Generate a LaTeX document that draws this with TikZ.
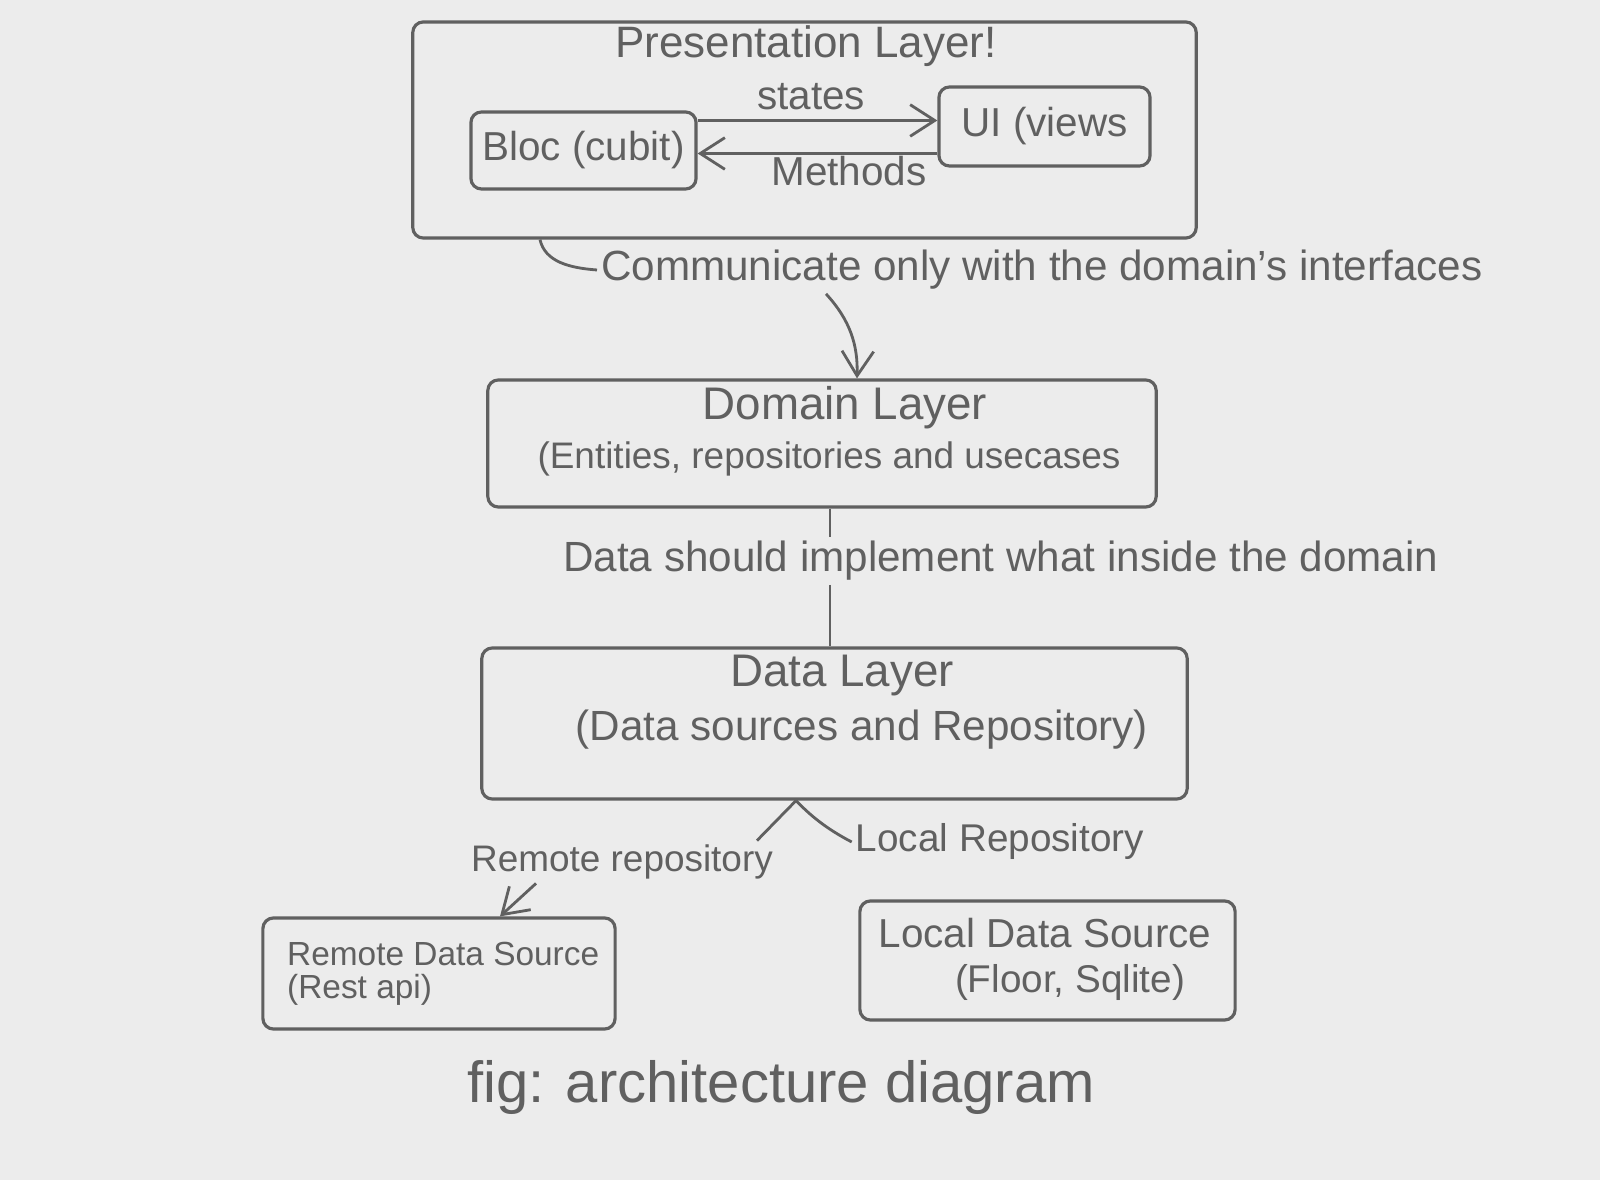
\documentclass[tikz,border=0pt]{standalone}
\usepackage{fontspec}
\setmainfont{Liberation Sans}
\usetikzlibrary{arrows.meta,calc}
\definecolor{paper}{RGB}{236,236,236}
\definecolor{pencil}{RGB}{96,96,96}
\tikzset{
  box/.style={draw=pencil, line width=0.9pt, rounded corners=3pt, inner sep=0pt},
  txt/.style={text=pencil, inner sep=1pt, font=\fontsize{#1}{#1}\selectfont},
  txt/.default=11,
  wire/.style={draw=pencil, line width=0.8pt},
  arr/.style={wire, -{Straight Barb[length=7pt,width=9pt]}},
}
\begin{document}
\begin{tikzpicture}[x=0.01cm,y=-0.01cm]
\useasboundingbox (0,0) rectangle (1600,1180);
\fill[paper] (0,0) rectangle (1600,1180);

% Presentation layer
\node[box, minimum width=7.83cm, minimum height=2.16cm] (pres) at (804.5,130) {};
\node[txt=12.5] (prestitle) at (806,46) {Presentation Layer!};
\node[box, minimum width=2.25cm, minimum height=0.77cm] (bloc) at (583.5,150.5) {};
\node[txt=11.5] (bloctxt) at (bloc.center) {Bloc (cubit)};
\node[box, minimum width=2.11cm, minimum height=0.79cm] (ui) at (1044.5,126.5) {};
\node[txt=11.5] (uitxt) at (ui.center) {UI (views};
\coordinate (s1) at ($(bloc.east)+(0,-30)$);
\coordinate (m1) at ($(bloc.east)+(0,3)$);
\draw[arr] (s1) -- (s1 -| ui.west);
\draw[arr] (m1 -| ui.west) -- (m1);
\node[txt=11.5] (states) at (811,97) {states};
\node[txt=11.5] (methods) at (849,171) {Methods};

% Communicate
\node[txt=12, anchor=west] (comm) at (597,270) {Communicate only with the domain's interfaces};
\coordinate (p1) at (pres.south -| 540,0);
\draw[wire] (p1) .. controls (545,262) and (570,268) .. (comm.west);
\node[box, minimum width=6.68cm, minimum height=1.27cm] (domain) at (822,443.5) {};
\node[txt=13] (domtitle) at (845,408) {Domain Layer};
\node[txt=10.5] (domsub) at (829,459) {(Entities, repositories and usecases};
\coordinate (c1) at (comm.south -| 826,0);
\draw[arr] (c1) .. controls (850,320) and (858,345) .. (domain.north -| 857,0);

% Data
\node[box, minimum width=7.05cm, minimum height=1.51cm] (data) at (834.5,723.5) {};
\node[txt=13] (datatitle) at (842,676) {Data Layer};
\node[txt=12] (datasub) at (862,730) {(Data sources and Repository)};
\node[txt=12, anchor=west] (impl) at (559,561) {Data should implement what inside the domain};
\draw[wire] (domain.south -| 830,0) -- (impl.north -| 830,0);
\draw[wire] (impl.south -| 830,0) -- (data.north -| 830,0);

% Branches
\node[txt=10.5] (remrep) at (622,862) {Remote repository};
\node[txt=11] (locrep) at (1000,842) {Local Repository};
\coordinate (b0) at (data.south -| 796,0);
\draw[wire] (b0) -- (remrep.north east -| 757,0);
\draw[wire] (b0) .. controls (810,815) and (825,828) .. (locrep.west);

\node[box, minimum width=3.52cm, minimum height=1.11cm] (remote) at (439,973.5) {};
\node[txt=9.5, anchor=west] (remtitle) at (283,954) {Remote Data Source};
\node[txt=9.5, anchor=west] (remsub) at (283,990) {(Rest api)};
\draw[arr] (remrep.south -| 536,0) -- (remote.north -| 500,0);

\node[box, minimum width=3.75cm, minimum height=1.19cm] (local) at (1047.5,960.5) {};
\node[txt=11.5] (loctitle) at (1045,933) {Local Data Source};
\node[txt=11] (locsub) at (1070,982) {(Floor, Sqlite)};

% Caption
\node[txt=16.5] (caption) at (781,1087) {fig: architecture diagram};
\end{tikzpicture}
\end{document}
